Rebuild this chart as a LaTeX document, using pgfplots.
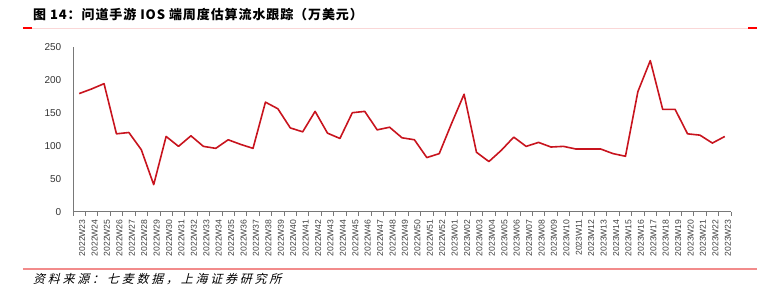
\documentclass[border=0pt]{standalone}
\usepackage{fontspec}
\setmainfont{Liberation Sans}
\newfontfamily\cjk[LetterSpace=7]{Noto Sans CJK SC}
\newfontfamily\cjksl[FakeSlant=0.25, LetterSpace=23]{Noto Sans CJK SC}
\usepackage{pgfplots}
\pgfplotsset{compat=1.18}
\definecolor{linered}{RGB}{200,20,30}
\definecolor{pinkline}{RGB}{242,139,139}
\definecolor{paleline}{RGB}{250,215,215}
\definecolor{axgray}{RGB}{120,120,120}
\pgfplotstableread{
x y
0 179
1 186
2 194
3 118
4 120
5 94
6 41
7 114
8 99
9 115
10 99
11 96
12 109
13 102
14 96
15 166
16 156
17 127
18 121
19 152
20 119
21 111
22 150
23 152
24 124
25 128
26 112
27 109
28 82
29 88
30 134
31 178
32 90
33 76
34 93
35 113
36 99
37 105
38 98
39 99
40 95
41 95
42 95
43 88
44 84
45 182
46 229
47 155
48 155
49 118
50 116
51 104
52 114
}\datatable
\begin{document}
\begin{tikzpicture}
\begin{axis}[at={(0pt,0pt)}, anchor=south west, scale only axis,
  width=658pt, height=165pt,
  xmin=-0.5, xmax=52.5, ymin=0, ymax=250,
  axis x line*=bottom, axis y line*=left,
  axis line style={draw=axgray, line width=0.8pt, -},
  xtick={0,...,52},
  xticklabels={2022W23,2022W24,2022W25,2022W26,2022W27,2022W28,2022W29,2022W30,2022W31,2022W32,2022W33,2022W34,2022W35,2022W36,2022W37,2022W38,2022W39,2022W40,2022W41,2022W42,2022W43,2022W44,2022W45,2022W46,2022W47,2022W48,2022W49,2022W50,2022W51,2022W52,2023W01,2023W02,2023W03,2023W04,2023W05,2023W06,2023W07,2023W08,2023W09,2023W10,2023W11,2023W12,2023W13,2023W14,2023W15,2023W16,2023W17,2023W18,2023W19,2023W20,2023W21,2023W22,2023W23},
  major x tick style={draw=none},
  minor xtick={-0.5,0.5,...,52.5},
  minor tick length=4pt,
  tick align=outside,
  minor x tick style={draw=axgray, line width=0.8pt},
  xticklabel style={rotate=90, anchor=east, font=\fontsize{8.6}{9}\selectfont, text=black!75, yshift=-3pt},
  ytick={0,50,...,250},
  major y tick style={draw=none},
  yticklabel style={font=\fontsize{10}{12}\selectfont, text=black!80, xshift=-4pt},
  /pgf/number format/assume math mode=true,
  clip=false,
]
\addplot[linered, line width=1.6pt, line join=round] table[x=x,y=y]{\datatable};
\end{axis}
\begin{scope}[x=1pt,y=1pt,shift={(-73pt,-78.3pt)}]
\draw[paleline, line width=1pt] (23,262) -- (757,262);
\draw[red, line width=1.2pt] (23,262) -- (32,262);
\draw[red, line width=1.2pt] (748,262) -- (757,262);
\node[anchor=west, inner sep=0] at (33,275) {\cjk\bfseries\fontsize{13}{15}\selectfont 图 14：问道手游 IOS 端周度估算流水跟踪（万美元）};
\draw[pinkline, line width=2pt] (23,21) -- (757,21);
\node[anchor=west, inner sep=0] at (33,11) {\cjksl\fontsize{12}{14}\selectfont 资料来源：七麦数据，上海证券研究所};
\pgfresetboundingbox
\useasboundingbox (0,0) rectangle (761,290);
\end{scope}
\end{tikzpicture}
\end{document}
